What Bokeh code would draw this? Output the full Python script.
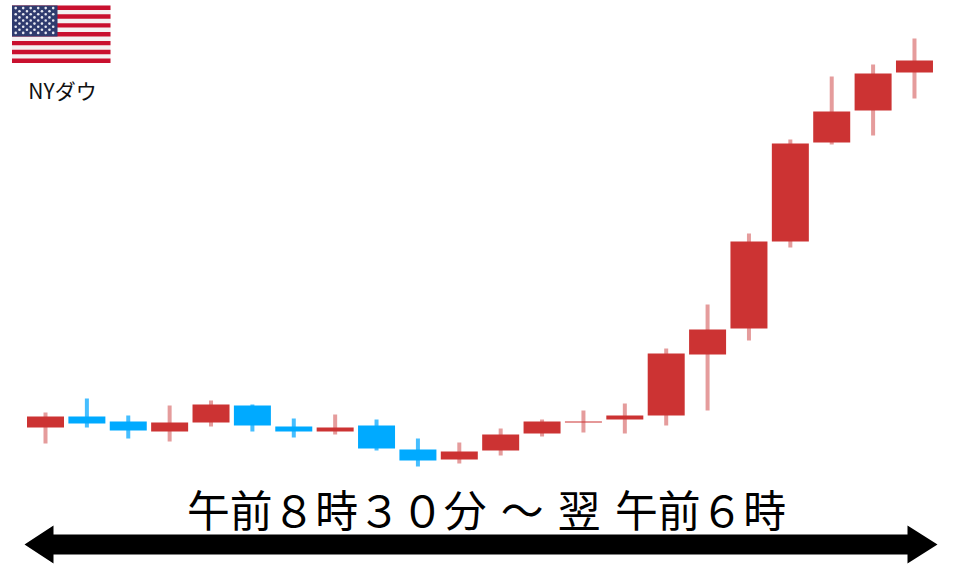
from bokeh.plotting import figure
from bokeh.models import Range1d, ColumnDataSource
from bokeh.core.properties import value
from bokeh.embed import file_html
from bokeh.resources import INLINE

# --- candle values (price scale) ---
opens  = [140, 151, 146, 136, 145, 162, 141, 136, 142, 118, 108, 117, 134, 145, 148, 152, 213, 239, 326, 425, 457, 495]
highs  = [155, 169, 152, 162, 167, 163, 149, 153, 148, 129, 125, 139, 148, 157, 164, 219, 263, 334, 428, 491, 503, 529]
lows   = [124, 140, 129, 126, 141, 136, 130, 133, 117, 101, 104, 112, 131, 135, 134, 142, 157, 227, 320, 423, 432, 469]
closes = [151, 144, 137, 145, 163, 142, 136, 140, 119, 107, 116, 133, 146, 146, 152, 214, 238, 326, 424, 456, 494, 507]

title_text = "午前８時３０分\u2004～\u2004翌\u2004午前６時"
flag_label = "NYダウ"

W, H = 960, 567
STEP = 41.38
FIRST = 45.0
PAGE_H = 567.0
MARGIN = 0.0


def X(px):
    return (px - FIRST) / STEP


def Y(py):
    return PAGE_H - py


p = figure(width=W, height=H, output_backend="svg", toolbar_location=None,
           x_range=Range1d(X(MARGIN), X(MARGIN + W)),
           y_range=Range1d(Y(MARGIN + H), Y(MARGIN)),
           min_border=0, outline_line_color=None, background_fill_color="white",
           border_fill_color="white")
p.axis.visible = False
p.grid.visible = False

RED, BLUE = "#CC3333", "#00AAFF"
RED_W, BLUE_W = "#E59C9C", "#45BEFF"
idx = list(range(len(opens)))
up = [c >= o for o, c in zip(opens, closes)]
src = ColumnDataSource(dict(
    x=idx, high=highs, low=lows,
    top=[max(o, c) for o, c in zip(opens, closes)],
    bottom=[min(o, c) for o, c in zip(opens, closes)],
    body=[RED if u else BLUE for u in up],
    wick=[RED_W if u else BLUE_W for u in up],
))
p.segment("x", "high", "x", "low", source=src, line_color="wick", line_width=4)
p.vbar("x", width=37 / STEP, top="top", bottom="bottom", source=src,
       fill_color="body", line_color=None)

# double-headed arrow
ax = [24, 53, 53, 907, 907, 937, 907, 907, 53, 53]
ay = [544, 525, 534, 534, 525, 544, 563, 554, 554, 563]
p.patch([X(a) for a in ax], [Y(a) for a in ay], fill_color="black", line_color=None)

# caption
p.text([X(486)], [Y(507)], text=[title_text], text_font=value("Noto Sans CJK JP"),
       text_font_size="42.8px", text_align="center", text_baseline="middle", text_color="black")
p.text([X(62)], [Y(89.5)], text=[flag_label], text_font=value("Noto Sans CJK JP"),
       text_font_size="21px", text_align="center", text_baseline="middle", text_color="#111111")

# flag
FL, FR, FT, FB = 11.5, 110.0, 5.0, 62.5
n = 13
sh = (FB - FT) / n
p.quad(left=[X(FL)], right=[X(FR)], top=[Y(FT)], bottom=[Y(FB)], fill_color="#F4F1F2", line_color=None)
p.quad(left=[X(FL)] * 7, right=[X(FR)] * 7,
       top=[Y(FT + i * sh) for i in range(0, n, 2)],
       bottom=[Y(FT + (i + 1) * sh) for i in range(0, n, 2)],
       fill_color="#C9102F", line_color=None)
CR, CB = 57.0, FT + 7 * sh
p.quad(left=[X(FL)], right=[X(CR)], top=[Y(FT)], bottom=[Y(CB)], fill_color="#2F3B6E", line_color=None)
sx, sy = [], []
for r in range(9):
    cols = 6 if r % 2 == 0 else 5
    for c in range(cols):
        sx.append(X(FL + 3.7 + (c + (0 if r % 2 == 0 else 0.5)) * 7.5))
        sy.append(Y(FT + 2.6 + r * 3.1))
p.scatter(sx, sy, marker="circle", size=2.6, fill_color="#E6E8F0", line_color=None)

open("out.html", "w").write(file_html(p, INLINE))
